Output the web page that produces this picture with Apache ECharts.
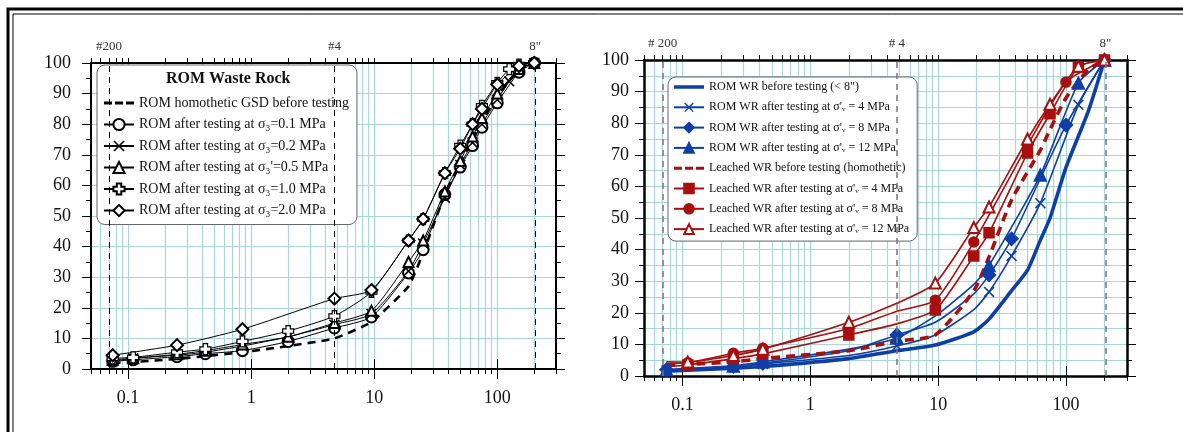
<!DOCTYPE html>
<html>
<head>
<meta charset="utf-8">
<script src="https://cdn.jsdelivr.net/npm/echarts@6/dist/echarts.min.js"></script>
<style>
  html, body { margin: 0; padding: 0; background: #fff; }
  #main { width: 1183px; height: 432px; }
</style>
</head>
<body>
<div id="main"></div>
<script>
'use strict';

// Left panel - ROM waste rock (sieve sizes in mm, % passing)
// --------------------------------------------------------------------
const leftSizes = [0.075, 0.11, 0.25, 0.425, 0.85, 2, 4.75, 9.5, 19, 25, 37.5, 50, 63, 75, 100, 125, 150, 200];
const romHomothetic = [2, 2.3, 3.3, 4.2, 5.5, 7.5, 10, 15.4, 27, 38, 57, 67, 75, 81, 89, null, 98, 100];
const rom01 = [2.5, 3, 4, 5, 6, 9, 13.4, 17, 31.4, 39, 57, 66, 73, 79, 87, null, 97, 100];
const rom02 = [2.5, 3.5, 4.5, 5.5, 7.5, 10.5, 14.5, 18, 32, 41, 56, 66.7, 74, 80, 88, 94, 98, 100];
const rom05 = [3, 3.5, 4.8, 6, 8, 10.5, 15, 19, 35, 42, 58, 68, 76, 82, 90, null, 98, 100];
const rom10 = [3.5, 3.8, 5.5, 6.5, 9, 12.4, 17.3, 25.2, 42, 49, 64, 73, 80, 86, 93.5, 98, 99.5, 100];
const rom20 = [4.5, null, 7.8, null, 13, null, 23, 25.8, 42, 49, 64, 72, 80, 85, 93, null, 99, 100];

// Right panel - ROM and leached WR
// --------------------------------------------------------------------
const rightSizes = [0.075, 0.11, 0.25, 0.425, 2, 4.75, 9.5, 19, 25, 37.5, 50, 63, 75, 100, 125, 150, 200];
const romBefore = [1.5, 1.8, 2.5, 3, 5.5, 8, 9.8, 14, 18, 27, 33.5, 43, 50, 66, null, 84, 100];
const rom4 = [1.8, 2.2, 3, 3.8, 6.5, 9.5, 13, 21, 26.6, 38, null, 54.7, null, null, 85.8, null, 100];
const rom8 = [2, 2.3, 3, 4, 8, 13, 17, 26, 32, 43.4, null, null, null, 79.4, null, null, 100];
const rom12 = [2, 2.4, 3.2, 4.5, 8.5, 12, 19, 29, 35, null, null, 63.6, null, null, 92.7, null, 100];
const leachedBefore = [3.5, 3.7, 4.5, 5.5, 8, 11, 13, 27, 37.7, 55.7, null, 71.5, 78, 88, null, 97, 100];
const leached4 = [3, 3.5, 5.5, 7, 13, 16.5, 20.9, 38, 45.3, null, 70.6, null, 83, null, 97.8, null, 100];
const leached8 = [4, 4.2, 7.2, 8.8, 15, 20.5, 24, 42.4, null, null, 73, null, null, 93, null, null, 100];
const leached12 = [4.5, 4.4, 6.5, 8.5, 17, 23, 29.4, 47, 53.5, null, 75, null, 86, null, 98, null, 100];

// sizes where the markers are drawn on the right panel
const blueMarked = [0.075, 0.25, 0.425, 4.75, 25, 37.5, 63, 100, 125, 200];
const redMarked = [0.11, 0.25, 0.425, 2, 9.5, 19, 25, 50, 75, 100, 125, 200];

// sieve references on the top axis
const leftSieves = [[0.075, '#200'], [4.75, '#4'], [203, '8"']];
const rightSieves = [[0.075, '# 200'], [4.75, '# 4'], [203, '8"']];

const xMajor = [0.1, 1, 10, 100];
const xTicks = [];
for (let k = -2; k <= 2; k++) {
  for (let m = 1; m <= 9; m++) {
    const v = parseFloat((m * Math.pow(10, k)).toPrecision(3));
    if (v >= 0.05 && v <= 300) xTicks.push(v);
  }
}

const serif = 'Liberation Serif';
const gridColor = '#aad6d6';
const blue = '#0d3fa6';
const red = '#a80f0f';

const xMark = 'path://M0,1L1,0L5,4L9,0L10,1L6,5L10,9L9,10L5,6L1,10L0,9L4,5Z';
const plusMark = 'path://M3,0H7V3H10V7H7V10H3V7H0V3H3Z';
const dashIcon = 'path://M0,0h8v3h-8zM11,0h8v3h-8zM22,0h8v3h-8z';
const thickIcon = 'path://M0,0h30v3.5h-30z';

function pairs(xs, ys, marked) {
  return xs.map((x, i) => {
    if (marked && marked.indexOf(x) < 0) return { value: [x, ys[i]], symbol: 'none' };
    return [x, ys[i]];
  });
}

function xAxes(gi, axisWidth) {
  const base = {
    type: 'log', logBase: 10, min: 0.05, max: 300, gridIndex: gi,
    axisLine: { show: true, onZero: false, lineStyle: { color: '#000', width: axisWidth } },
    splitLine: { show: false },
    axisLabel: { show: false },
    axisTick: { show: true, inside: false, length: 5, customValues: xTicks, lineStyle: { color: '#000' } }
  };
  return [
    Object.assign({}, base, {
      position: 'bottom',
      splitLine: { show: true, lineStyle: { color: gridColor, width: 1.2 } },
      axisLabel: {
        show: true, customValues: xMajor, margin: 20,
        fontFamily: serif, fontSize: 18, color: '#111',
        formatter: v => String(v)
      }
    }),
    Object.assign({}, base, { position: 'top' }),
    Object.assign({}, base, {
      position: 'bottom', axisLine: { show: false },
      axisTick: { show: true, length: 10, customValues: xMajor, lineStyle: { color: '#000' } }
    }),
    Object.assign({}, base, {
      position: 'top', axisLine: { show: false },
      axisTick: { show: true, length: 10, customValues: xMajor, lineStyle: { color: '#000' } }
    })
  ];
}

function yAxes(gi, axisWidth, minorGrid, labelMargin) {
  const base = {
    type: 'value', min: 0, max: 100, interval: 10, gridIndex: gi,
    axisLine: { show: true, onZero: false, lineStyle: { color: '#000', width: axisWidth } },
    axisTick: { show: true, length: 9, lineStyle: { color: '#000' } },
    minorTick: { show: true, splitNumber: 2, length: 5, lineStyle: { color: '#000' } }
  };
  return [
    Object.assign({}, base, {
      position: 'left',
      splitLine: { show: true, lineStyle: { color: gridColor, width: 1.2 } },
      minorSplitLine: { show: minorGrid, lineStyle: { color: gridColor, width: 1 } },
      axisLabel: { margin: labelMargin, fontFamily: serif, fontSize: 18, color: '#111' }
    }),
    Object.assign({}, base, {
      position: 'right',
      splitLine: { show: false },
      axisLabel: { show: false }
    })
  ];
}

function sieveLines(list, color, width) {
  return {
    silent: true,
    symbol: 'none',
    animation: false,
    lineStyle: { type: [6, 5], color: color, width: width },
    label: {
      show: true, position: 'end', distance: 10, formatter: '{b}',
      fontFamily: serif, fontSize: 13, color: '#333'
    },
    data: list.map(s => ({ xAxis: s[0], name: s[1] }))
  };
}

function leftSeries(name, ys, symbol, extra) {
  return Object.assign({
    name: name, type: 'line', xAxisIndex: 0, yAxisIndex: 0,
    data: pairs(leftSizes, ys), connectNulls: true, smooth: 0.2,
    symbol: symbol, symbolSize: 10,
    lineStyle: { color: '#000', width: 1 },
    itemStyle: { color: '#000', borderColor: '#000', borderWidth: 1.2 }
  }, extra || {});
}

function rightSeries(name, ys, symbol, color, marked, extra) {
  return Object.assign({
    name: name, type: 'line', xAxisIndex: 4, yAxisIndex: 2,
    data: pairs(rightSizes, ys, marked), connectNulls: true, smooth: 0.2,
    symbol: symbol, symbolSize: 11,
    lineStyle: { color: color, width: 1.6 },
    itemStyle: { color: color, borderColor: color, borderWidth: 1.5 }
  }, extra || {});
}

const leftNames = [
  'ROM homothetic GSD before testing',
  'ROM after testing at σ₃=0.1 MPa',
  'ROM after testing at σ₃=0.2 MPa',
  'ROM after testing at σ₃\'=0.5 MPa',
  'ROM after testing at σ₃=1.0 MPa',
  'ROM after testing at σ₃=2.0 MPa'
];
const rightNames = [
  'ROM WR before testing (< 8")',
  'ROM WR after testing at σ\'ᵥ = 4 MPa',
  'ROM WR after testing at σ\'ᵥ = 8 MPa',
  'ROM WR after testing at σ\'ᵥ = 12 MPa',
  'Leached WR before testing (homothetic)',
  'Leached WR after testing at σ\'ᵥ = 4 MPa',
  'Leached WR after testing at σ\'ᵥ = 8 MPa',
  'Leached WR after testing at σ\'ᵥ = 12 MPa'
];

const chart = echarts.init(document.getElementById('main'));

const option = {
  animation: false,
  backgroundColor: '#fff',
  grid: [
    { left: 91, right: 627, top: 63, bottom: 63 },
    { left: 644, right: 56, top: 60, bottom: 56 }
  ],
  xAxis: xAxes(0, 2).concat(xAxes(1, 2.5)),
  yAxis: yAxes(0, 2, false, 20).concat(yAxes(1, 2.5, true, 15)),
  legend: [
    {
      left: 97, top: 65, orient: 'vertical',
      padding: [31, 8, 7, 6], itemGap: 7.5, itemWidth: 30, itemHeight: 14,
      backgroundColor: '#fff', borderColor: '#666', borderWidth: 1, borderRadius: 8,
      textStyle: { fontFamily: serif, fontSize: 14, color: '#111' },
      data: [{ name: leftNames[0], icon: dashIcon, itemStyle: { color: '#000', borderWidth: 0 } }].concat(leftNames.slice(1))
    },
    {
      left: 668, top: 77, orient: 'vertical',
      padding: [4, 8, 6, 5], itemGap: 8.3, itemWidth: 30, itemHeight: 12,
      backgroundColor: '#fff', borderColor: '#666', borderWidth: 1, borderRadius: 8,
      textStyle: { fontFamily: serif, fontSize: 12, color: '#111' },
      data: [
        { name: rightNames[0], icon: thickIcon, itemStyle: { color: blue, borderWidth: 0 } },
        rightNames[1], rightNames[2], rightNames[3],
        { name: rightNames[4], icon: dashIcon, itemStyle: { color: red, borderWidth: 0 } },
        rightNames[5], rightNames[6], rightNames[7]
      ]
    }
  ],
  graphic: [
    {
      type: 'text', left: 166, top: 71, z: 100,
      style: { text: 'ROM Waste Rock', font: 'bold 16px "Liberation Serif"', fill: '#111' }
    },
    { type: 'rect', z: 100, shape: { x: 8, y: 9, width: 1300, height: 500 }, style: { fill: 'none', stroke: '#000', lineWidth: 3 } },
    { type: 'rect', z: 100, shape: { x: 13, y: 14, width: 1300, height: 500 }, style: { fill: 'none', stroke: '#000', lineWidth: 1 } }
  ],
  series: [
    leftSeries(leftNames[0], romHomothetic, 'none', {
      smooth: 0.15,
      lineStyle: { color: '#000', width: 2.6, type: [8, 6] },
      markLine: sieveLines(leftSieves, '#000', 1)
    }),
    leftSeries(leftNames[1], rom01, 'emptyCircle', { symbolSize: 11 }),
    leftSeries(leftNames[2], rom02, xMark, {
      symbolSize: 11, itemStyle: { color: '#000', borderWidth: 0 }
    }),
    leftSeries(leftNames[3], rom05, 'emptyTriangle'),
    leftSeries(leftNames[4], rom10, plusMark, {
      symbolSize: 11, itemStyle: { color: '#fff', borderColor: '#000', borderWidth: 1.2 }
    }),
    leftSeries(leftNames[5], rom20, 'emptyDiamond', { symbolSize: 12 }),

    rightSeries(rightNames[0], romBefore, 'none', blue, null, {
      lineStyle: { color: blue, width: 3.6 },
      markLine: sieveLines(rightSieves, '#777', 1.5)
    }),
    rightSeries(rightNames[1], rom4, xMark, blue, blueMarked, { itemStyle: { color: blue, borderWidth: 0 } }),
    rightSeries(rightNames[2], rom8, 'diamond', blue, blueMarked, { symbolSize: 13 }),
    rightSeries(rightNames[3], rom12, 'triangle', blue, blueMarked, { symbolSize: 12 }),
    rightSeries(rightNames[4], leachedBefore, 'none', red, null, {
      lineStyle: { color: red, width: 3.6, type: [9, 6] }
    }),
    rightSeries(rightNames[5], leached4, 'rect', red, redMarked, { symbolSize: 10 }),
    rightSeries(rightNames[6], leached8, 'circle', red, redMarked, { symbolSize: 10 }),
    rightSeries(rightNames[7], leached12, 'emptyTriangle', red, redMarked, {
      symbolSize: 11, itemStyle: { color: red, borderColor: red, borderWidth: 2 }
    })
  ]
};

chart.setOption(option);
window.addEventListener('resize', chart.resize);
</script>
</body>
</html>
